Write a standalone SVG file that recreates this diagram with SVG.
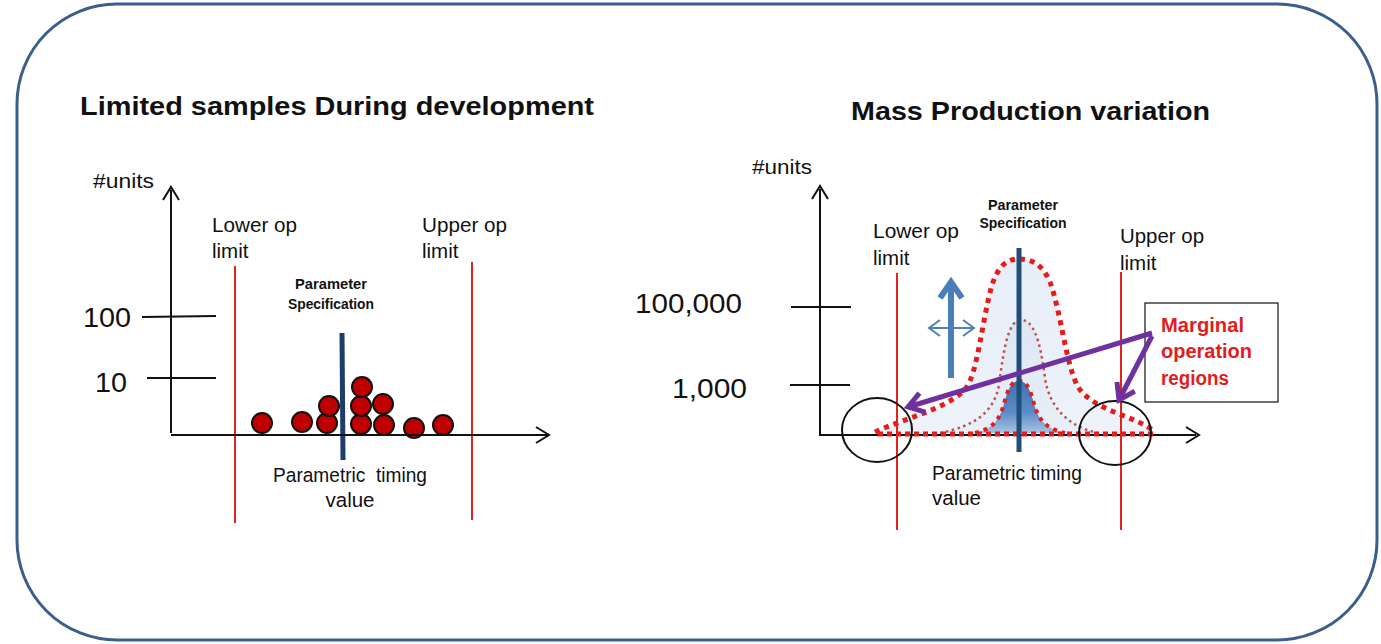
<svg xmlns="http://www.w3.org/2000/svg" width="1381" height="644" viewBox="0 0 1381 644">
<style>
.t{font-family:"Liberation Sans",Arial,sans-serif;fill:#111}
.title{font-size:26px;font-weight:bold}
.lbl{font-size:20.5px}
.num{font-size:28px}
.spec{font-size:14px;font-weight:bold}
.marg{font-family:"Liberation Sans",Arial,sans-serif;font-size:20px;font-weight:bold;fill:#e31c1c}
.ax{stroke:#111;stroke-width:2;fill:none}
.tick{stroke:#111;stroke-width:2}
.lim{stroke:#e2231a;stroke-width:2}
.dot{fill:#c00000;stroke:#111;stroke-width:2}
.purple{stroke:#7030a0;stroke-width:5;fill:none}
.reg{fill:none;stroke:#111;stroke-width:2}
</style>
<defs>
<marker id="pa" viewBox="-20 -14 26 28" refX="0" refY="0" markerWidth="26" markerHeight="28" markerUnits="userSpaceOnUse" orient="auto"><path d="M-15,-10 L0,0 L-15,10" fill="none" stroke="#7030a0" stroke-width="5"/></marker>
<marker id="ba" viewBox="-22 -14 28 28" refX="0" refY="0" markerWidth="28" markerHeight="28" markerUnits="userSpaceOnUse" orient="auto"><path d="M-16,-11 L0,0 L-16,11" fill="none" stroke="#4a7ebb" stroke-width="6"/></marker>
<marker id="bs" viewBox="-14 -10 18 20" refX="0" refY="0" markerWidth="18" markerHeight="20" markerUnits="userSpaceOnUse" orient="auto-start-reverse"><path d="M-11,-8 L0,0 L-11,8" fill="none" stroke="#4f81bd" stroke-width="2"/></marker>
<linearGradient id="gOuter" x1="0" y1="0" x2="0" y2="1"><stop offset="0" stop-color="#e6eef8"/><stop offset="1" stop-color="#eef3fa"/></linearGradient>
<linearGradient id="gInner" x1="0" y1="0" x2="0" y2="1"><stop offset="0" stop-color="#dde7f4"/><stop offset="1" stop-color="#e8eff8"/></linearGradient>
<linearGradient id="gCore" x1="0" y1="0" x2="0" y2="1"><stop offset="0" stop-color="#3f72b0"/><stop offset="0.6" stop-color="#5b8cc7"/><stop offset="1" stop-color="#a9c3e3"/></linearGradient>
</defs>
<rect id="frame" x="17" y="4" width="1360" height="636" rx="100" ry="100" fill="#fff" stroke="#3b5e8c" stroke-width="3"/>

<g id="left-chart">
<text class="t title" x="80" y="115" textLength="514" lengthAdjust="spacingAndGlyphs">Limited samples During development</text>
<text class="t lbl" x="93" y="188" textLength="61" lengthAdjust="spacingAndGlyphs">#units</text>
<text class="t lbl" x="212" y="232" textLength="85" lengthAdjust="spacingAndGlyphs">Lower op</text>
<text class="t lbl" x="212" y="258">limit</text>
<text class="t lbl" x="422" y="232" textLength="85" lengthAdjust="spacingAndGlyphs">Upper op</text>
<text class="t lbl" x="422" y="258">limit</text>
<text class="t num" x="83" y="327" textLength="48" lengthAdjust="spacingAndGlyphs">100</text>
<text class="t num" x="95" y="392" textLength="32" lengthAdjust="spacingAndGlyphs">10</text>
<text class="t spec" x="331" y="289" text-anchor="middle" textLength="72" lengthAdjust="spacingAndGlyphs">Parameter</text>
<text class="t spec" x="331" y="309" text-anchor="middle" textLength="86" lengthAdjust="spacingAndGlyphs">Specification</text>
<text class="t lbl" x="350" y="482" text-anchor="middle" textLength="154" lengthAdjust="spacingAndGlyphs" xml:space="preserve">Parametric  timing</text>
<text class="t lbl" x="350" y="507" text-anchor="middle">value</text>
<line class="tick" x1="142" y1="317" x2="216" y2="316"/>
<line class="tick" x1="147" y1="378" x2="216" y2="378"/>
<line class="lim" x1="235" y1="266" x2="235" y2="523"/>
<line class="lim" x1="472" y1="262" x2="472" y2="520"/>
<g id="samples">
<circle class="dot" cx="262" cy="423" r="10"/>
<circle class="dot" cx="302" cy="422" r="10"/>
<circle class="dot" cx="327" cy="423" r="10"/>
<circle class="dot" cx="329" cy="406" r="10"/>
<circle class="dot" cx="361" cy="424" r="10"/>
<circle class="dot" cx="361" cy="406" r="10"/>
<circle class="dot" cx="362" cy="387" r="10"/>
<circle class="dot" cx="384" cy="425" r="10"/>
<circle class="dot" cx="383" cy="404" r="10"/>
<circle class="dot" cx="414" cy="428" r="10"/>
<circle class="dot" cx="443" cy="425" r="10"/>
</g>
<line x1="342" y1="333" x2="343" y2="460" stroke="#1f3d6b" stroke-width="5"/>
<path class="ax" d="M171,190 L171,433 M171,435 L548,435"/>
<path class="ax" d="M163,200 L171,187 L179,200 M536,427 L549,435 L536,443"/>
</g>

<g id="right-chart">
<text class="t title" x="851" y="120" textLength="359" lengthAdjust="spacingAndGlyphs">Mass Production variation</text>
<text class="t lbl" x="752" y="174" textLength="60" lengthAdjust="spacingAndGlyphs">#units</text>
<text class="t lbl" x="873" y="238" textLength="86" lengthAdjust="spacingAndGlyphs">Lower op</text>
<text class="t lbl" x="873" y="265">limit</text>
<text class="t lbl" x="1120" y="243" textLength="84" lengthAdjust="spacingAndGlyphs">Upper op</text>
<text class="t lbl" x="1120" y="270">limit</text>
<text class="t num" x="635" y="313" textLength="107" lengthAdjust="spacingAndGlyphs">100,000</text>
<text class="t num" x="672" y="398" textLength="75" lengthAdjust="spacingAndGlyphs">1,000</text>
<text class="t spec" x="1023" y="210" text-anchor="middle" textLength="70" lengthAdjust="spacingAndGlyphs">Parameter</text>
<text class="t spec" x="1023" y="228" text-anchor="middle" textLength="87" lengthAdjust="spacingAndGlyphs">Specification</text>
<text class="t lbl" x="932" y="480" textLength="150" lengthAdjust="spacingAndGlyphs">Parametric timing</text>
<text class="t lbl" x="932" y="505">value</text>
<line class="tick" x1="791" y1="307" x2="851" y2="307"/>
<line class="tick" x1="790" y1="385" x2="850" y2="385"/>

<g id="distributions">
<path d="M875,432 C905,418 950,408 966,388 C978,372 982,320 992,285 C999,264 1008,259 1019,259 C1030,259 1042,263 1050,282 C1061,312 1066,365 1078,387 C1095,412 1135,415 1155,432 L1155,434 L875,434 Z" fill="url(#gOuter)"/>
<path d="M940,433 C975,426 994,412 999,385 C1004,345 1009,320 1021,320 C1033,320 1040,338 1045,378 C1050,412 1074,428 1098,433 Z" fill="url(#gInner)"/>
<path d="M975,433 C994,428 1000,420 1005,400 C1009,386 1013,381 1019,381 C1025,381 1029,386 1033,400 C1038,420 1045,428 1065,433 Z" fill="url(#gCore)"/>
<path d="M940,433 C975,426 994,412 999,385 C1004,345 1009,320 1021,320 C1033,320 1040,338 1045,378 C1050,412 1074,428 1098,433" fill="none" stroke="#c0504d" stroke-width="2.5" stroke-dasharray="2.5 3.5"/>
<path d="M975,433 C994,428 1000,420 1005,400 C1009,386 1013,381 1019,381 C1025,381 1029,386 1033,400 C1038,420 1045,428 1065,433" fill="none" stroke="#e31c1c" stroke-width="4" stroke-dasharray="4 5"/>
<path d="M875,432 C905,418 950,408 966,388 C978,372 982,320 992,285 C999,264 1008,259 1019,259 C1030,259 1042,263 1050,282 C1061,312 1066,365 1078,387 C1095,412 1135,415 1155,432" fill="none" stroke="#e31c1c" stroke-width="5" stroke-dasharray="5 5"/>
</g>
<path class="ax" d="M820,189 L820,435 L1196,435"/>
<path class="ax" d="M812,199 L820,186 L828,199 M1186,427 L1199,435 L1186,443"/>
<line x1="878" y1="434" x2="1155" y2="434" stroke="#e31c1c" stroke-width="5" stroke-dasharray="5 4"/>
<line x1="1019" y1="248" x2="1019" y2="452" stroke="#1f4e79" stroke-width="5"/>
<line class="lim" x1="897" y1="273" x2="897" y2="530"/>
<line class="lim" x1="1121" y1="272" x2="1121" y2="530"/>
<ellipse class="reg" cx="877" cy="430" rx="35" ry="32"/>
<ellipse class="reg" cx="1115" cy="433" rx="36" ry="32"/>
<g id="shift-arrows">
<line x1="951" y1="378" x2="951" y2="282" stroke="#4a7ebb" stroke-width="6" marker-end="url(#ba)"/>
<line x1="929" y1="328" x2="974" y2="328" stroke="#4f81bd" stroke-width="2" marker-start="url(#bs)" marker-end="url(#bs)"/>
</g>
</g>

<g id="marginal-note">
<rect x="1145" y="303" width="133" height="99" fill="#fff" stroke="#111" stroke-width="1.2"/>
<text class="marg" x="1161" y="332" textLength="83" lengthAdjust="spacingAndGlyphs">Marginal</text>
<text class="marg" x="1161" y="358" textLength="91" lengthAdjust="spacingAndGlyphs">operation</text>
<text class="marg" x="1161" y="385" textLength="68" lengthAdjust="spacingAndGlyphs">regions</text>
</g>

<g id="connectors">
<line class="purple" x1="1152" y1="333" x2="908" y2="407" marker-end="url(#pa)"/>
<line class="purple" x1="1152" y1="336" x2="1119" y2="400" marker-end="url(#pa)"/>
</g>
</svg>
